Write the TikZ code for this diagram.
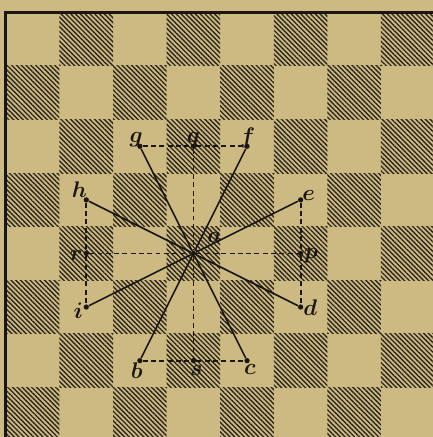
\documentclass[tikz,border=0pt]{standalone}
\usepackage{amsmath,amssymb}
\usepackage{tikz}
\usetikzlibrary{patterns.meta}

\definecolor{paper}{RGB}{204,186,130}
\definecolor{ink}{RGB}{28,22,18}
\definecolor{hatch}{RGB}{45,38,30}

\tikzset{
  darksq/.style={pattern={Lines[angle=-45,distance=1.8pt,line width=0.72pt]},pattern color=hatch},
  dot/.style={circle,fill=ink,inner sep=0pt,minimum size=2.8pt},
  lbl/.style={font=\large\boldmath,text=ink,inner sep=0pt},
  ray/.style={ink,line width=0.85pt},
  guide/.style={ink,line width=1pt,dash pattern=on 2.6pt off 1.8pt},
}

\begin{document}
\begin{tikzpicture}
  \useasboundingbox[fill=paper] (-0.11,0.075) rectangle (7.97,8.23);
  \foreach \i in {0,...,7}
    \foreach \j in {0,...,7}
    {
      \pgfmathtruncatemacro\odd{mod(\i+\j,2)}
      \ifnum\odd=0
        \path[darksq] (\i,\j) rectangle ++(1,1);
      \fi
    }
  \draw[ink,line width=1.6pt] (0,0) rectangle (8,8);

  \node[dot] (a) at (3.5,3.5) {};
  \node[dot] (g) at (2.5,5.5) {};
  \node[dot] (q) at (3.5,5.5) {};
  \node[dot] (f) at (4.5,5.5) {};
  \node[dot] (e) at (5.5,4.5) {};
  \node[dot] (p) at (5.5,3.5) {};
  \node[dot] (d) at (5.5,2.5) {};
  \node[dot] (c) at (4.5,1.5) {};
  \node[dot] (s) at (3.5,1.5) {};
  \node[dot] (b) at (2.5,1.5) {};
  \node[dot] (i) at (1.5,2.5) {};
  \node[dot] (r) at (1.5,3.5) {};
  \node[dot] (h) at (1.5,4.5) {};

  \draw[guide] (g) -- (q) -- (f);
  \draw[guide] (b) -- (s) -- (c);
  \draw[guide] (h) -- (r) -- (i);
  \draw[guide] (e) -- (p) -- (d);
  \draw[guide] (q) -- (a) -- (s);
  \draw[guide] (r) -- (a) -- (p);

  \foreach \t in {g,f,e,d,c,b,i,h}
    \draw[ray] (a) -- (\t);

  \node[lbl,xshift=11.2pt,yshift=8.5pt] (la) at (a) {$a$};
  \node[lbl,xshift=-1.9pt,yshift=3.7pt] (lg) at (g) {$g$};
  \node[lbl,yshift=3.5pt] (lq) at (q) {$q$};
  \node[lbl,xshift=0.3pt,yshift=4.3pt] (lf) at (f) {$f$};
  \node[lbl,xshift=4.3pt,yshift=2.1pt] (le) at (e) {$e$};
  \node[lbl,xshift=5.6pt,yshift=-1.1pt] (lp) at (p) {$p$};
  \node[lbl,xshift=5.1pt,yshift=-0.3pt] (ld) at (d) {$d$};
  \node[lbl,xshift=1.6pt,yshift=-4.8pt] (lc) at (c) {$c$};
  \node[lbl,xshift=1.6pt,yshift=-5.3pt] (ls) at (s) {$s$};
  \node[lbl,xshift=-1.6pt,yshift=-5.1pt] (lb) at (b) {$b$};
  \node[lbl,xshift=-4.3pt,yshift=-1.9pt] (li) at (i) {$i$};
  \node[lbl,xshift=-5.3pt,yshift=-1.1pt] (lr) at (r) {$r$};
  \node[lbl,xshift=-3.7pt,yshift=5.3pt] (lh) at (h) {$h$};
\end{tikzpicture}
\end{document}
